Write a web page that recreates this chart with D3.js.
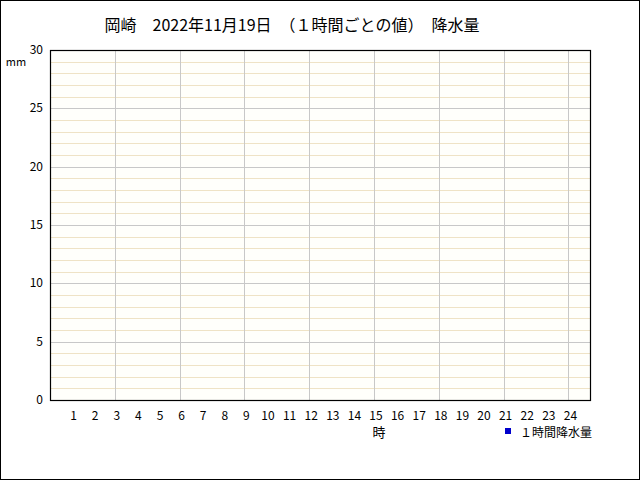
<!DOCTYPE html>
<html><head><meta charset="utf-8">
<script src="https://cdn.jsdelivr.net/npm/d3@7"></script>
<style>body{margin:0;background:#fff}svg{display:block}text{font-family:"Noto Sans CJK JP","Noto Sans",sans-serif;fill:#000}</style>
</head><body><svg id="c" width="640" height="480"></svg>
<script>
const title = "岡崎　2022年11月19日　（１時間ごとの値）　降水量";
const hours = [1,2,3,4,5,6,7,8,9,10,11,12,13,14,15,16,17,18,19,20,21,22,23,24];
const rain = [0,0,0,0,0,0,0,0,0,0,0,0,0,0,0,0,0,0,0,0,0,0,0,0];
const yTicks = [0,5,10,15,20,25,30];
const seriesName = "１時間降水量";

const svg = d3.select("#c");
const L=50,R=590,T=50,B=400;
const x = d3.scaleLinear().domain([0,25]).range([L,R]);
const y = d3.scaleLinear().domain([0,30]).range([B,T]);

svg.append("rect").attr("x",0.5).attr("y",0.5).attr("width",639).attr("height",479).attr("fill","#fff").attr("stroke","#000");
svg.append("rect").attr("x",L).attr("y",T).attr("width",R-L).attr("height",B-T).attr("fill","#fffffb");

// minor grid
svg.append("g").selectAll("line").data(d3.range(1,30).filter(v=>v%5!==0)).join("line")
  .attr("x1",L).attr("x2",R).attr("y1",d=>Math.round(y(d))+0.5).attr("y2",d=>Math.round(y(d))+0.5)
  .attr("stroke","#efe3c6").attr("stroke-width",1);
// major grid
svg.append("g").selectAll("line").data(yTicks.filter(v=>v>0&&v<30)).join("line")
  .attr("x1",L).attr("x2",R).attr("y1",d=>Math.round(y(d))+0.5).attr("y2",d=>Math.round(y(d))+0.5)
  .attr("stroke","#c8c8c8").attr("stroke-width",1);
svg.append("g").selectAll("line").data(hours.filter(h=>h%3===0)).join("line")
  .attr("y1",T).attr("y2",B).attr("x1",d=>Math.round(x(d))+0.5).attr("x2",d=>Math.round(x(d))+0.5)
  .attr("stroke","#c8c8c8").attr("stroke-width",1);

// bars
svg.append("g").selectAll("rect").data(hours).join("rect")
  .attr("x",(d,i)=>x(d)-6).attr("width",12)
  .attr("y",(d,i)=>y(rain[i])).attr("height",(d,i)=>B-y(rain[i]))
  .attr("fill","#0000cc");

// frame
svg.append("rect").attr("x",L+0.5).attr("y",T+0.5).attr("width",R-L).attr("height",B-T)
  .attr("fill","none").attr("stroke","#000").attr("stroke-width",1.2);

// y axis labels
svg.append("g").selectAll("text").data(yTicks).join("text")
  .attr("x",43).attr("y",d=>y(d)+4).attr("text-anchor","end").attr("font-size",12).text(d=>d);
// x axis labels
svg.append("g").selectAll("text").data(hours).join("text")
  .attr("x",d=>x(d)+2).attr("y",420).attr("text-anchor","middle").attr("font-size",12).text(d=>d);

svg.append("text").attr("x",292).attr("y",31).attr("text-anchor","middle").attr("font-size",16).text(title);
svg.append("text").attr("x",16).attr("y",66).attr("text-anchor","middle").attr("font-size",11).text("mm");
svg.append("text").attr("x",379).attr("y",437).attr("text-anchor","middle").attr("font-size",13).text("時");

svg.append("rect").attr("x",505).attr("y",428).attr("width",6).attr("height",6).attr("fill","#0000cc");
svg.append("text").attr("x",520).attr("y",437).attr("font-size",12).text(seriesName);
</script></body></html>
